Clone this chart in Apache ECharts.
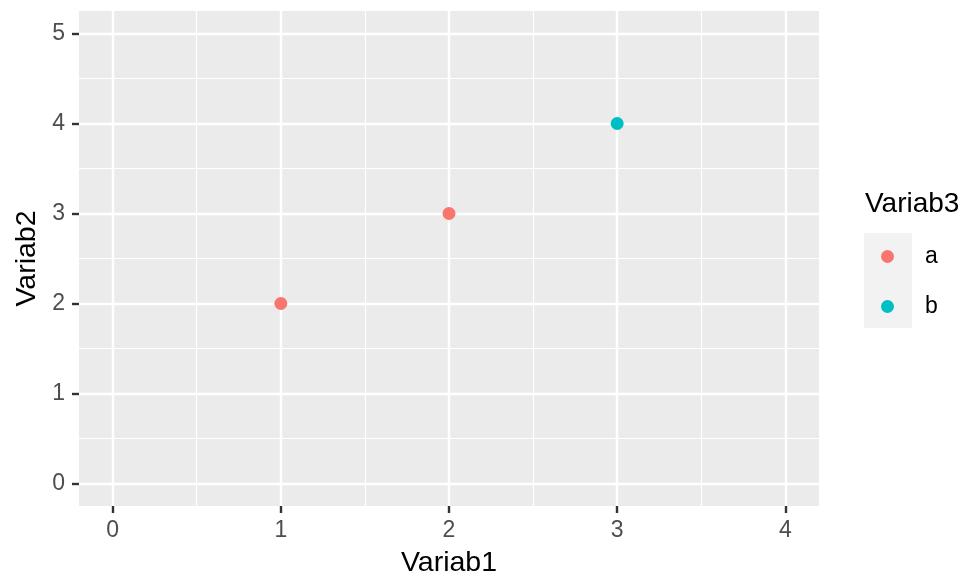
<!DOCTYPE html>
<html>
<head>
<meta charset="utf-8">
<script src="https://cdn.jsdelivr.net/npm/echarts@6/dist/echarts.min.js"></script>
<style>html,body{margin:0;padding:0;background:#fff;}#c{width:968px;height:576px;}</style>
</head>
<body>
<div id="c"></div>
<script>
// Data
var variab1 = [1, 2, 3];
var variab2 = [2, 3, 4];
var variab3 = ['a', 'a', 'b'];
var groups = ['a', 'b'];
var groupColors = ['#F8766D', '#00BFC4'];
var xTicks = [0, 1, 2, 3, 4];
var yTicks = [0, 1, 2, 3, 4, 5];

function mids(t) { var r = []; for (var i = 0; i < t.length - 1; i++) r.push((t[i] + t[i + 1]) / 2); return r; }
var xMinor = mids(xTicks), yMinor = mids(yTicks);

var FONT = 'Liberation Sans, Arial, Helvetica, sans-serif';
var chart = echarts.init(document.getElementById('c'), null, {renderer: 'canvas'});

function gridLines(vals, key, w) {
  return vals.map(function (v) { var o = {}; o[key] = v; o.lineStyle = {width: w}; return o; });
}

var series = [{
  name: '__grid',
  type: 'scatter',
  data: [],
  silent: true,
  z: 1,
  markLine: {
    silent: true,
    symbol: ['none', 'none'],
    label: {show: false},
    emphasis: {disabled: true},
    animation: false,
    lineStyle: {color: '#FFFFFF', type: 'solid'},
    data: [].concat(
      gridLines(xMinor, 'xAxis', 1.2),
      gridLines(yMinor, 'yAxis', 1.2),
      gridLines(xTicks, 'xAxis', 2.4),
      gridLines(yTicks, 'yAxis', 2.4)
    )
  }
}];

groups.forEach(function (g, gi) {
  var d = [];
  for (var i = 0; i < variab1.length; i++) if (variab3[i] === g) d.push([variab1[i], variab2[i]]);
  series.push({
    name: g,
    type: 'scatter',
    data: d,
    symbol: 'circle',
    symbolSize: 13,
    z: 5,
    itemStyle: {color: groupColors[gi], opacity: 1}
  });
});

chart.setOption({
  animation: false,
  backgroundColor: '#FFFFFF',
  title: {
    text: 'Variab3',
    left: 865,
    top: 190,
    padding: 0,
    textStyle: {fontFamily: FONT, fontSize: 28, fontWeight: 'normal', color: '#000000'}
  },
  legend: {
    data: groups,
    orient: 'vertical',
    left: 881,
    top: 245,
    padding: 0,
    itemWidth: 13,
    itemHeight: 13,
    itemGap: 27,
    icon: 'circle',
    selectedMode: false,
    textStyle: {fontFamily: FONT, fontSize: 23, color: '#000000', padding: [0, 0, 0, 26]}
  },
  graphic: [{
    type: 'rect',
    left: 864,
    top: 233,
    shape: {width: 48, height: 95},
    style: {fill: '#F2F2F2'},
    z: -10,
    silent: true
  }],
  grid: {
    left: 79, right: 149, top: 11, bottom: 70,
    show: true, backgroundColor: '#EBEBEB', borderWidth: 0,
    containLabel: false,
    outerBoundsMode: 'none'
  },
  xAxis: {
    type: 'value',
    min: -0.2, max: 4.2,
    name: 'Variab1',
    nameLocation: 'middle',
    nameGap: 43,
    nameTextStyle: {fontFamily: FONT, fontSize: 28.5, color: '#000000'},
    axisLine: {show: false, onZero: false},
    axisTick: {show: true, length: 7, customValues: xTicks, lineStyle: {color: '#333333', width: 2.4}},
    axisLabel: {show: true, customValues: xTicks, margin: 13, fontFamily: FONT, fontSize: 23, color: '#4D4D4D'},
    splitLine: {show: false},
    minorSplitLine: {show: false}
  },
  yAxis: {
    type: 'value',
    min: -0.25, max: 5.25,
    name: 'Variab2',
    nameLocation: 'middle',
    nameGap: 33,
    nameRotate: 90,
    nameTextStyle: {fontFamily: FONT, fontSize: 28.5, color: '#000000'},
    axisLine: {show: false, onZero: false},
    axisTick: {show: true, length: 7, customValues: yTicks, lineStyle: {color: '#333333', width: 2.4}},
    axisLabel: {show: true, customValues: yTicks, margin: 14, fontFamily: FONT, fontSize: 23, color: '#4D4D4D'},
    splitLine: {show: false},
    minorSplitLine: {show: false}
  },
  series: series
});
</script>
</body>
</html>
